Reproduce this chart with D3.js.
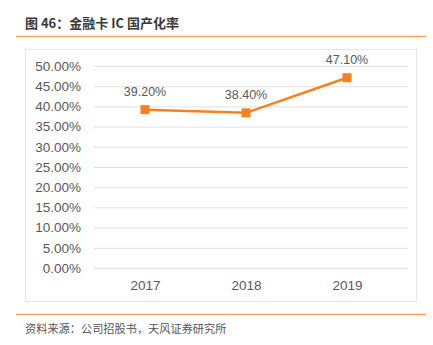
<!DOCTYPE html>
<html><head><meta charset="utf-8">
<script src="https://cdn.jsdelivr.net/npm/d3@7"></script>
<style>body{margin:0;background:#fff;}svg{display:block;font-family:"Noto Sans CJK SC","Noto Sans",sans-serif;}</style>
</head><body><svg id="c" width="433" height="345"></svg>
<script>
const categories = ["2017","2018","2019"];
const values = [39.20, 38.40, 47.10];
const yTicks = [0,5,10,15,20,25,30,35,40,45,50];
const title = "图 46：金融卡 IC 国产化率";
const source = "资料来源：公司招股书，天风证券研究所";

const svg = d3.select("#c");
const orange = "#F58220";
svg.append("text").attr("x",25).attr("y",28).attr("font-size",13).attr("font-weight","bold").attr("fill","#3a3a3a").text(title);
svg.append("line").attr("x1",16).attr("x2",426).attr("y1",36.5).attr("y2",36.5).attr("stroke","#F7A35C").attr("stroke-width",1.5);
svg.append("rect").attr("x",25.5).attr("y",49.5).attr("width",391).attr("height",252).attr("fill","none").attr("stroke","#e6e6e6");
svg.append("line").attr("x1",16).attr("x2",426).attr("y1",314.5).attr("y2",314.5).attr("stroke","#F7A35C").attr("stroke-width",1.5);
svg.append("text").attr("x",25).attr("y",333).attr("font-size",11.2).attr("fill","#555").text(source);

const x = d3.scalePoint().domain(categories).range([145,347]);
const y = d3.scaleLinear().domain([0,50]).range([268,66]);

const grid = svg.append("g").attr("transform","translate(94,0)")
  .call(d3.axisLeft(y).tickValues(yTicks).tickSize(-314).tickFormat(d=>d.toFixed(2)+"%"));
grid.select(".domain").remove();
grid.selectAll(".tick line").attr("stroke","#e0e0e0").attr("stroke-width",1);
grid.selectAll(".tick text").attr("x",-13).attr("font-size",13.5).attr("fill","#595959").attr("font-family","'Liberation Sans',Arial,sans-serif");

const xa = svg.append("g").attr("transform","translate(0,268)")
  .call(d3.axisBottom(x).tickSize(0));
xa.select(".domain").remove();
xa.selectAll(".tick text").attr("dy",0).attr("y",22).attr("font-size",13.5).attr("fill","#595959").attr("font-family","'Liberation Sans',Arial,sans-serif");

const data = categories.map((c,i)=>({c,v:values[i]}));
svg.append("path").datum(data).attr("fill","none").attr("stroke",orange).attr("stroke-width",2.5)
  .attr("d",d3.line().x(d=>x(d.c)).y(d=>y(d.v)));
svg.selectAll("rect.m").data(data).enter().append("rect").attr("class","m")
  .attr("x",d=>x(d.c)-4.5).attr("y",d=>y(d.v)-4.5).attr("width",9).attr("height",9).attr("fill",orange);
svg.selectAll("text.l").data(data).enter().append("text").attr("class","l")
  .attr("x",d=>x(d.c)).attr("y",d=>y(d.v)-14).attr("text-anchor","middle")
  .attr("font-size",12.5).attr("fill","#595959").attr("font-family","'Liberation Sans',Arial,sans-serif")
  .text(d=>d.v.toFixed(2)+"%");
</script></body></html>
